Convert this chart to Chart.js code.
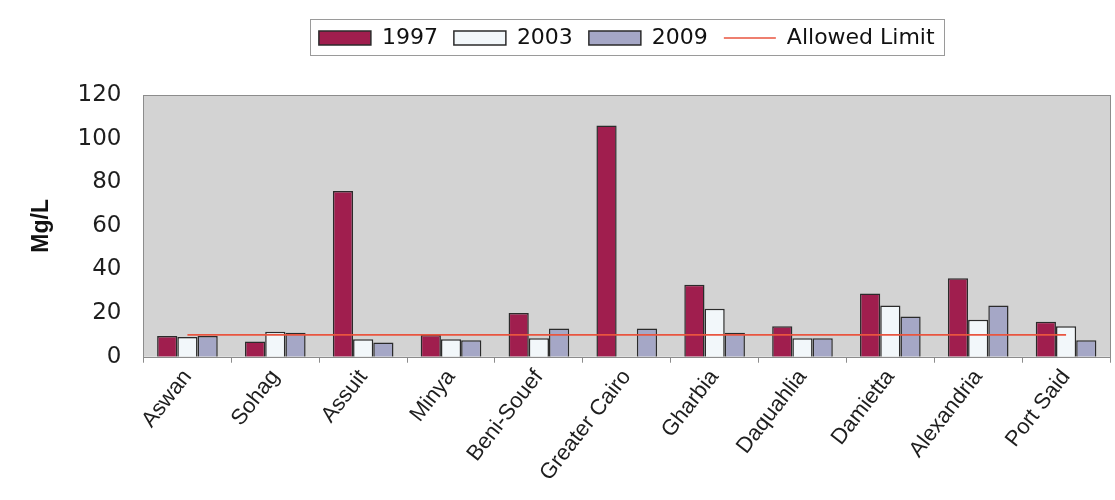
<!DOCTYPE html>
<html>
<head>
<meta charset="utf-8">
<title>Mg/L by governorate</title>
<script src="https://cdn.jsdelivr.net/npm/chart.js@4.4.1/dist/chart.umd.min.js"></script>
<style>
  html, body { margin: 0; padding: 0; background: #ffffff; }
  #wrap { width: 1115px; height: 500px; position: relative; }
</style>
</head>
<body>
<div id="wrap"><canvas id="chart" width="1115" height="500"></canvas></div>
<script>
// Governorates along the Nile, south to north
const categories = ['Aswan', 'Sohag', 'Assuit', 'Minya', 'Beni-Souef', 'Greater Cairo',
                    'Gharbia', 'Daquahlia', 'Damietta', 'Alexandria', 'Port Said'];

// Measured concentrations (Mg/L) per survey year
const values1997 = [9.5, 7, 76, 10, 20, 106, 33, 14, 29, 36, 16];
const values2003 = [9, 11.5, 8, 8, 8.5, null, 22, 8.5, 23.5, 17, 14];
const values2009 = [9.5, 11, 6.5, 7.5, 13, 13, 11, 8.5, 18.5, 23.5, 7.5];

// Permitted concentration, same for every governorate
const allowedLimit = [10, 10, 10, 10, 10, 10, 10, 10, 10, 10, 10];

// Value axis
const yMin = 0;
const yMax = 120;
const yStep = 20;

const FONT_H = "'DejaVu Sans', sans-serif";
const FONT_A = "'Liberation Sans', Arial, sans-serif";

// Grey plot panel, white page, framed panel and legend
const panelPlugin = {
  id: 'panel',
  beforeInit(chart) {
    const lg = chart.legend;
    if (lg) {
      const fit = lg.fit;
      lg.fit = function () { fit.call(this); this.height += 36; };
    }
  },
  beforeDraw(chart) {
    const { ctx, chartArea: a } = chart;
    ctx.save();
    ctx.fillStyle = '#ffffff';
    ctx.fillRect(0, 0, chart.width, chart.height);
    ctx.fillStyle = '#d3d3d3';
    ctx.fillRect(a.left, a.top, a.right - a.left, a.bottom - a.top);
    ctx.restore();
  },
  afterDraw(chart) {
    const { ctx, chartArea: a } = chart;
    ctx.save();
    ctx.strokeStyle = '#8c8c8c';
    ctx.lineWidth = 1;
    ctx.strokeRect(Math.round(a.left) + 0.5, Math.round(a.top) + 0.5,
                   Math.round(a.right - a.left), Math.round(a.bottom - a.top));
    const boxes = chart.legend && chart.legend.legendHitBoxes;
    if (boxes && boxes.length) {
      let l = Infinity, r = -Infinity, t = Infinity, b = -Infinity;
      boxes.forEach(h => {
        l = Math.min(l, h.left); r = Math.max(r, h.left + h.width);
        t = Math.min(t, h.top); b = Math.max(b, h.top + h.height);
      });
      ctx.strokeStyle = '#9a9a9a';
      ctx.strokeRect(Math.round(l - 9) + 0.5, Math.round(t - 8) + 0.5,
                     Math.round(r - l + 18), Math.round(b - t + 14));
    }
    ctx.restore();
  }
};

const barBorder = '#2b2b2b';

new Chart(document.getElementById('chart'), {
  data: {
    labels: categories,
    datasets: [
      {
        type: 'bar', label: '1997', data: values1997,
        backgroundColor: '#a01e4e', borderColor: barBorder, borderWidth: 1.5,
        pointStyle: 'rect', order: 1
      },
      {
        type: 'bar', label: '2003', data: values2003,
        backgroundColor: '#f2f7fa', borderColor: barBorder, borderWidth: 1.5,
        pointStyle: 'rect', order: 1
      },
      {
        type: 'bar', label: '2009', data: values2009,
        backgroundColor: '#a5a7c6', borderColor: barBorder, borderWidth: 1.5,
        pointStyle: 'rect', order: 1
      },
      {
        type: 'line', label: 'Allowed Limit', data: allowedLimit,
        borderColor: '#e9553f', backgroundColor: '#e9553f', borderWidth: 1.6,
        pointRadius: 0, pointHoverRadius: 0, pointStyle: 'line', fill: false,
        tension: 0, order: 0
      }
    ]
  },
  options: {
    responsive: false,
    animation: false,
    devicePixelRatio: 1,
    layout: { padding: { left: 28, right: 5, top: 11, bottom: 12 } },
    datasets: {
      bar: { categoryPercentage: 0.69, barPercentage: 1.0 }
    },
    plugins: {
      tooltip: { enabled: false },
      legend: {
        position: 'top',
        fullSize: false,
        labels: {
          usePointStyle: true,
          pointStyleWidth: 52,
          boxHeight: 14,
          padding: 16,
          color: '#111111',
          font: { family: FONT_H, size: 22 },
          sort: (a, b) => a.datasetIndex - b.datasetIndex
        }
      }
    },
    scales: {
      x: {
        type: 'category',
        offset: true,
        grid: {
          display: true, offset: true, drawOnChartArea: false, drawTicks: true,
          tickLength: 6, color: '#8c8c8c'
        },
        border: { display: false },
        ticks: {
          autoSkip: false, minRotation: 52, maxRotation: 52, padding: 2,
          color: '#1e1e1e', font: { family: FONT_A, size: 22 }
        }
      },
      y: {
        type: 'linear',
        min: yMin, max: yMax,
        grid: { display: false, drawTicks: false },
        border: { display: false },
        ticks: {
          stepSize: yStep, padding: 22,
          color: '#1e1e1e', font: { family: FONT_H, size: 23 }
        },
        title: {
          display: true, text: 'Mg/L',
          color: '#111111',
          font: { family: FONT_A, size: 23, weight: 'bold' },
          padding: { top: 0, bottom: 0 }
        }
      }
    }
  },
  plugins: [panelPlugin]
});
</script>
</body>
</html>
